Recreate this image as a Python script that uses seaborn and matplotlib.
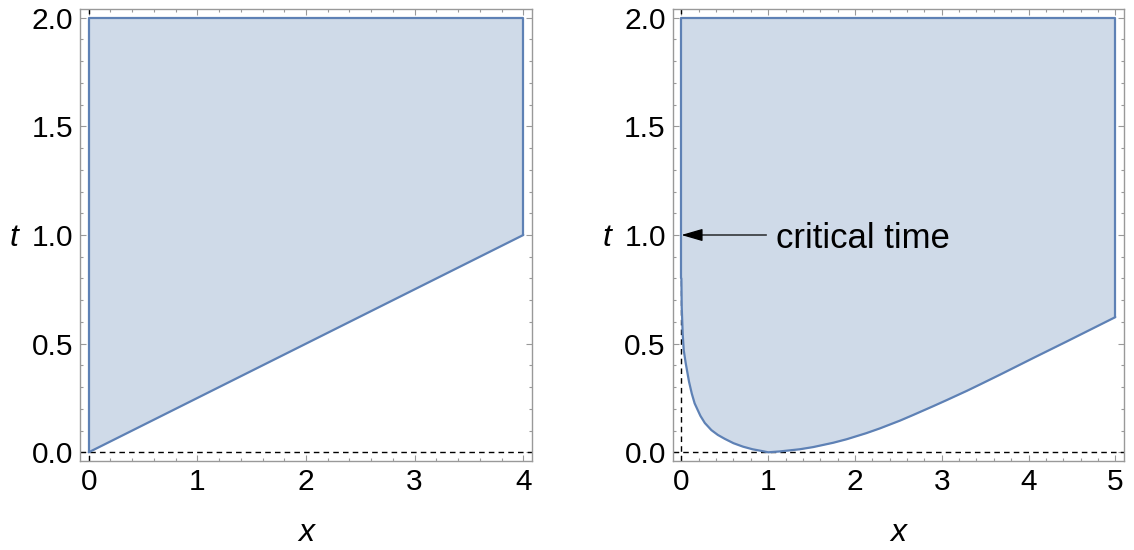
import matplotlib
matplotlib.use("Agg")
import matplotlib.pyplot as plt
import matplotlib.ticker as mticker
import numpy as np
import pandas as pd
import seaborn as sns

# left panel: region between t = lower(x) and t = 2
left_x = [0.0, 4.0]
left_lower = [0.0, 1.0]
t_top = 2.0

# right panel: lower boundary
right_x = [0.0, 0.004, 0.015, 0.027, 0.05, 0.088, 0.12, 0.153, 0.219, 0.27,
           0.346, 0.42, 0.5, 0.6, 0.71, 0.82, 0.94, 1.0, 1.134, 1.364,
           1.518, 1.75, 1.903, 2.13, 2.287, 2.52, 2.672, 2.90, 3.056, 3.29,
           3.44, 3.67, 4.06, 4.44, 5.0]
right_lower = [0.80, 0.668, 0.546, 0.47, 0.41, 0.325, 0.27, 0.225, 0.168, 0.135,
               0.102, 0.08, 0.062, 0.042, 0.026, 0.014, 0.005, 0.0, 0.004, 0.014,
               0.024, 0.044, 0.06, 0.088, 0.11, 0.146, 0.172, 0.212, 0.24, 0.283,
               0.312, 0.357, 0.435, 0.51, 0.622]

critical_t = 1.0
x_ticks_left = [0, 1, 2, 3, 4]
x_ticks_right = [0, 1, 2, 3, 4, 5]
y_ticks = [0.0, 0.5, 1.0, 1.5, 2.0]

EDGE = "#5E81B5"
FILL = "#CFDAE8"
FRAME = "#999999"

sns.set_style("ticks")
plt.rcParams["font.family"] = ["Liberation Sans", "DejaVu Sans"]
plt.rcParams["text.color"] = "black"

fig = plt.figure(figsize=(11.34, 5.5), dpi=100)
W, H = 1134, 550
ax1 = fig.add_axes([80 / W, (H - 461) / H, 452 / W, 452 / H])
ax2 = fig.add_axes([672.7 / W, (H - 461) / H, 451.3 / W, 452 / H])


def draw_region(ax, xs, lower):
    xs = np.asarray(xs)
    lower = np.asarray(lower)
    ax.axhline(0, color="black", lw=1.0, ls=(0, (4, 3)), zorder=1)
    ax.axvline(0, color="black", lw=1.0, ls=(0, (4, 3)), zorder=1)
    ax.fill_between(xs, lower, t_top, color=FILL, lw=0, zorder=2)
    df = pd.DataFrame({"x": xs, "t": lower})
    sns.lineplot(data=df, x="x", y="t", ax=ax, color=EDGE, lw=1.6,
                 sort=False, estimator=None, zorder=3)
    # sides and top of the region
    bx = [xs[0], xs[0], xs[-1], xs[-1]]
    by = [lower[0], t_top, t_top, lower[-1]]
    ax.plot(bx, by, color=EDGE, lw=1.6, zorder=3, solid_joinstyle="round")


def style_axes(ax, xticks, xlim):
    ax.set_xlim(*xlim)
    ax.set_ylim(-0.04, 2.04)
    ax.set_xticks(xticks)
    ax.set_yticks(y_ticks)
    ax.xaxis.set_major_formatter(mticker.FormatStrFormatter("%d"))
    ax.yaxis.set_major_formatter(mticker.FormatStrFormatter("%.1f"))
    ax.xaxis.set_minor_locator(mticker.MultipleLocator(0.2))
    ax.yaxis.set_minor_locator(mticker.MultipleLocator(0.1))
    ax.tick_params(which="both", direction="in", top=True, right=True,
                   color=FRAME, width=0.8, labelsize=21.5, labelcolor="black")
    ax.tick_params(which="major", length=4.5, pad=5)
    ax.tick_params(which="minor", length=2.5)
    for sp in ax.spines.values():
        sp.set_color(FRAME)
        sp.set_linewidth(1.0)
    ax.set_xlabel("")
    ax.set_ylabel("")
    ax.text(0.5, -0.178, "x", transform=ax.transAxes, ha="center",
            va="baseline", fontsize=23, style="italic", color="black")
    ax.text(-0.155, 1.0, "t", transform=ax.get_yaxis_transform(), ha="left",
            va="center_baseline", fontsize=23, style="italic", color="black")


draw_region(ax1, left_x, left_lower)
style_axes(ax1, x_ticks_left, (-0.08, 4.08))

draw_region(ax2, right_x, right_lower)
style_axes(ax2, x_ticks_right, (-0.1, 5.1))

ax2.annotate("", xy=(0, critical_t), xytext=(0.98, critical_t),
             arrowprops=dict(arrowstyle="-|>,head_length=0.55,head_width=0.16",
                             mutation_scale=24, color="black", lw=0.9,
                             shrinkA=0, shrinkB=0),
             zorder=5)
ax2.text(1.096, critical_t, "critical time", fontsize=25, va="center_baseline",
         ha="left", color="black", zorder=5)

fig.savefig("out.png", dpi=100)
